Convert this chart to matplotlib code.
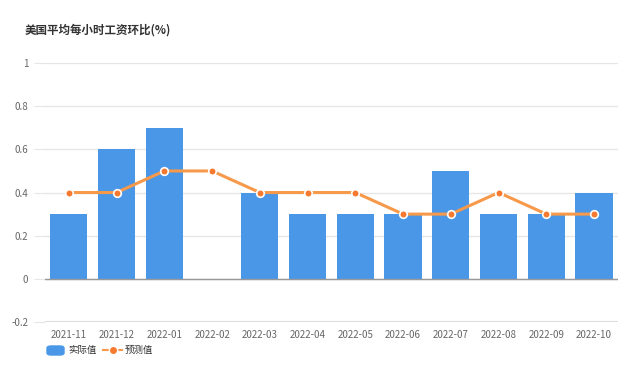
import numpy as np
import matplotlib.pyplot as plt
from matplotlib.lines import Line2D
from matplotlib.patches import FancyBboxPatch

plt.rcParams['font.family'] = ['Noto Sans CJK SC', 'DejaVu Sans']

months = ["2021-11", "2021-12", "2022-01", "2022-02", "2022-03", "2022-04",
          "2022-05", "2022-06", "2022-07", "2022-08", "2022-09", "2022-10"]
actual = [0.3, 0.6, 0.7, np.nan, 0.4, 0.3, 0.3, 0.3, 0.5, 0.3, 0.3, 0.4]
forecast = [0.4, 0.4, 0.5, 0.5, 0.4, 0.4, 0.4, 0.3, 0.3, 0.4, 0.3, 0.3]
yticks = [-0.2, 0, 0.2, 0.4, 0.6, 0.8, 1]
ytick_labels = ["-0.2", "0", "0.2", "0.4", "0.6", "0.8", "1"]

bar_color = "#4a97e8"
line_color = "#f7994a"

fig = plt.figure(figsize=(6.4, 3.69), dpi=100)
ax = fig.add_axes([0.0703, 0.1274, 0.8953, 0.7016])

x = np.arange(len(months))
ax.bar(x, actual, width=0.78, color=bar_color, zorder=2)
ax.plot(x, forecast, color=line_color, lw=2.2, zorder=3)
ax.scatter(x, forecast, s=30, color="#f57a30", edgecolor="white", linewidths=1.2, zorder=4)

ax.set_xlim(-0.5, len(months) - 0.5)
ax.set_ylim(-0.2, 1)
ax.set_yticks(yticks)
ax.set_yticklabels(ytick_labels)
ax.set_xticks(x)
ax.set_xticklabels(months)
ax.set_axisbelow(True)
ax.grid(axis="y", color="#e6e6e6", lw=1)
for s in ax.spines.values():
    s.set_visible(False)
ax.axhline(0, color="#999999", lw=1, zorder=2.5)
ax.axhline(-0.2, color="#dddddd", lw=1.5, zorder=1)
ax.tick_params(axis="y", length=8, color="#e6e6e6", labelsize=7, labelcolor="#666666", pad=4)
ax.tick_params(axis="x", length=0, labelsize=7, labelcolor="#666666", pad=6)

fig.text(25 / 640, 1 - 30 / 369, "美国平均每小时工资环比(%)", fontsize=8.3,
         fontweight="bold", color="#333333", va="center", ha="left")

# legend
fig.patches.append(FancyBboxPatch((47 / 640, 1 - 355 / 369), 17 / 640, 9 / 369,
                                  boxstyle="round,pad=0,rounding_size=0.006",
                                  transform=fig.transFigure, color=bar_color))
fig.text(68 / 640, 1 - 350 / 369, "实际值", fontsize=6.8, color="#333333", va="center")
fig.lines.append(Line2D([103 / 640, 122 / 640], [1 - 350 / 369] * 2, transform=fig.transFigure,
                        color=line_color, lw=1.5))
fig.lines.append(Line2D([112.5 / 640], [1 - 350 / 369], transform=fig.transFigure,
                        marker="o", ms=6, color="#f57a30", mec="white", mew=1))
fig.text(125 / 640, 1 - 350 / 369, "预测值", fontsize=6.8, color="#333333", va="center")

fig.savefig("out.png", dpi=100)
